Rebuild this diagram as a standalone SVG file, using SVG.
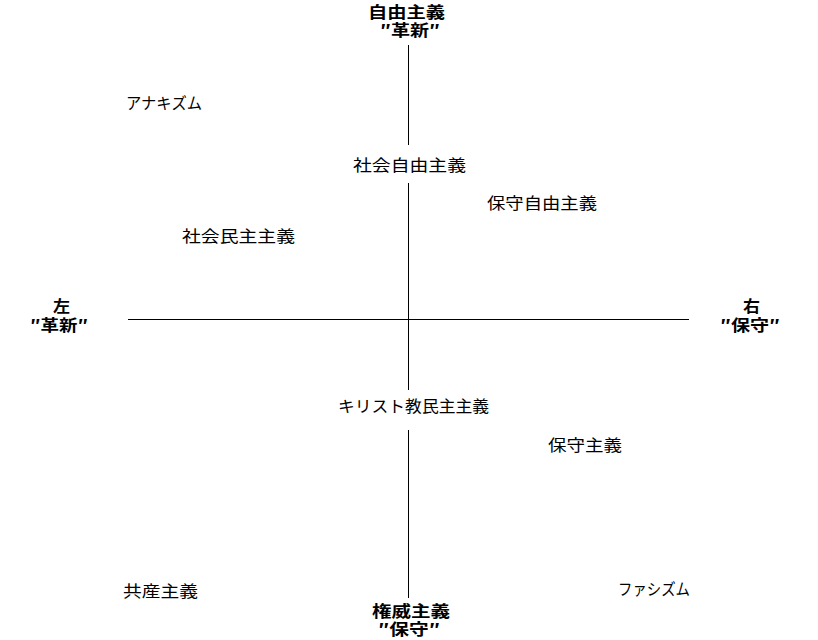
<svg xmlns="http://www.w3.org/2000/svg" width="818" height="640" viewBox="0 0 818 640">
<style>
text{font-family:"Noto Sans CJK JP","Noto Sans",sans-serif;fill:#000;}
.lbl{font-size:16px;}
.ax{font-size:16px;font-weight:bold;}
.ln{stroke:#000;stroke-width:1;fill:none;}
</style>
<rect width="818" height="640" fill="#fff"/>
<g id="connectors">
<line class="ln" x1="408.5" y1="45" x2="408.5" y2="145"/>
<line class="ln" x1="408.5" y1="183" x2="408.5" y2="390"/>
<line class="ln" x1="408.5" y1="430" x2="408.5" y2="598"/>
<line class="ln" x1="128" y1="319.5" x2="689" y2="319.5"/>
</g>
<g id="axis-top">
<text class="ax"><tspan x="368" y="18" textLength="77" lengthAdjust="spacingAndGlyphs">自由主義</tspan><tspan x="380" y="36" textLength="60" lengthAdjust="spacingAndGlyphs">″革新″</tspan></text>
</g>
<g id="axis-left">
<text class="ax"><tspan x="53" y="312" textLength="17" lengthAdjust="spacingAndGlyphs">左</tspan><tspan x="30" y="331" textLength="58" lengthAdjust="spacingAndGlyphs">″革新″</tspan></text>
</g>
<g id="axis-right">
<text class="ax"><tspan x="743" y="312" textLength="17" lengthAdjust="spacingAndGlyphs">右</tspan><tspan x="720" y="331" textLength="60" lengthAdjust="spacingAndGlyphs">″保守″</tspan></text>
</g>
<g id="axis-bottom">
<text class="ax"><tspan x="372" y="617" textLength="78" lengthAdjust="spacingAndGlyphs">権威主義</tspan><tspan x="378" y="635" textLength="62" lengthAdjust="spacingAndGlyphs">″保守″</tspan></text>
</g>
<g id="anarchism"><text class="lbl" x="126" y="109" textLength="76" lengthAdjust="spacingAndGlyphs">アナキズム</text></g>
<g id="social-liberalism"><text class="lbl" x="353" y="171" textLength="113" lengthAdjust="spacingAndGlyphs">社会自由主義</text></g>
<g id="conservative-liberalism"><text class="lbl" x="487" y="209" textLength="110" lengthAdjust="spacingAndGlyphs">保守自由主義</text></g>
<g id="social-democracy"><text class="lbl" x="182" y="242" textLength="113" lengthAdjust="spacingAndGlyphs">社会民主主義</text></g>
<g id="christian-democracy"><text class="lbl" x="338" y="412" textLength="151" lengthAdjust="spacingAndGlyphs">キリスト教民主主義</text></g>
<g id="conservatism"><text class="lbl" x="548" y="451" textLength="74" lengthAdjust="spacingAndGlyphs">保守主義</text></g>
<g id="communism"><text class="lbl" x="123" y="597" textLength="75" lengthAdjust="spacingAndGlyphs">共産主義</text></g>
<g id="fascism"><text class="lbl" x="618" y="595" textLength="72" lengthAdjust="spacingAndGlyphs">ファシズム</text></g>
</svg>
